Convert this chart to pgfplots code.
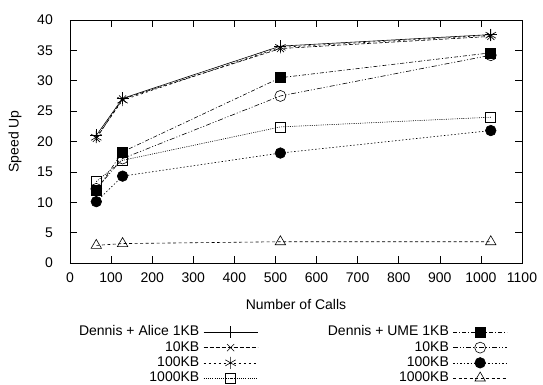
\documentclass[border=0pt]{standalone}
\usepackage{fontspec}
\setmainfont{Liberation Sans}
\usepackage{pgfplots}
\pgfplotsset{compat=1.18}
\begin{document}
\fontsize{14bp}{16bp}\selectfont
\begin{tikzpicture}
\begin{axis}[
  scale only axis, width=452bp, height=243bp,
  xmin=0, xmax=1100, ymin=0, ymax=40,
  xtick={0,100,...,1100}, ytick={0,5,...,40},
  tick align=inside, xtick pos=both, ytick pos=both,
  major tick length=7bp,
  tick style={line width=0.6bp, black},
  /pgf/number format/assume math mode=true,
  /pgf/number format/1000 sep={},
  ticklabel style={font=\fontsize{14bp}{16bp}\selectfont},
  xticklabel style={inner sep=0pt, anchor=north, yshift=-10bp},
  yticklabel style={inner sep=0pt, anchor=east, xshift=-17bp},
  label style={font=\fontsize{14bp}{16bp}\selectfont},
  xlabel={Number of Calls}, ylabel={Speed Up},
  xlabel style={at={(axis description cs:0.5,0)}, anchor=base, yshift=-46bp, inner sep=0pt},
  ylabel style={at={(axis description cs:0,0.5)}, anchor=center, yshift=55bp, inner sep=0pt},
  axis line style={line width=0.8bp},
  every axis plot/.append style={line width=0.6bp, black},
  legend columns=2,
  legend plot pos=right,
  legend image code/.code={\draw[mark repeat=2, mark phase=2] plot coordinates {(0bp,0bp) (27bp,0bp) (54bp,0bp)};},
  legend style={draw=none, fill=none, inner sep=0pt, outer sep=0pt,
    at={(axis description cs:0.02,-0.259)}, anchor=north west,
    font=\fontsize{14bp}{16bp}\selectfont,
    nodes={inner sep=0pt, text height=10bp, text depth=3bp},
    cells={anchor=east},
    /tikz/column 1/.style={column sep=4bp},
    /tikz/column 2/.style={column sep=70bp},
    /tikz/column 3/.style={column sep=4bp},
    row sep=2.2bp},
]
\coordinate (ll) at (rel axis cs:0,0);
\coordinate (ur) at (rel axis cs:1,1);
% row 1
\addplot[solid, mark=+, mark size=6bp] coordinates {(64,21.0) (128,27.1) (512,35.7) (1024,37.6)};
\addlegendentry{Dennis + Alice 1KB}
\addplot[dash pattern=on 4bp off 2bp on 1bp off 2bp, mark=square*, mark size=5bp, mark options={solid}] coordinates {(64,11.9) (128,18.3) (512,30.5) (1024,34.6)};
\addlegendentry{Dennis + UME 1KB}
% row 2
\addplot[dash pattern=on 4bp off 2bp, mark=x, mark size=5bp, mark options={solid}] coordinates {(64,20.5) (128,27.0) (512,35.3) (1024,37.3)};
\addlegendentry{10KB}
\addplot[dash pattern=on 5bp off 2bp on 1bp off 2bp on 1bp off 2bp, mark=o, mark size=5.5bp, mark options={solid}] coordinates {(64,12.2) (128,17.2) (512,27.5) (1024,34.2)};
\addlegendentry{10KB}
% row 3
\addplot[dash pattern=on 2bp off 3bp, mark=asterisk, mark size=6bp, mark options={solid}] coordinates {(64,20.7) (128,26.8) (512,35.5) (1024,37.5)};
\addlegendentry{100KB}
\addplot[dash pattern=on 1.5bp off 2bp, mark=*, mark size=5.3bp, mark options={solid}] coordinates {(64,10.1) (128,14.3) (512,18.1) (1024,21.8)};
\addlegendentry{100KB}
% row 4
\addplot[dash pattern=on 1bp off 1.2bp, mark=square, mark size=5bp, mark options={solid}] coordinates {(64,13.4) (128,16.9) (512,22.4) (1024,24.0)};
\addlegendentry{1000KB}
\addplot[dash pattern=on 3bp off 2.5bp, mark=triangle, mark size=6bp, mark options={solid}] coordinates {(64,2.9) (128,3.2) (512,3.5) (1024,3.5)};
\addlegendentry{1000KB}
\end{axis}
\pgfresetboundingbox
\path ([xshift=-70bp,yshift=-122bp]ll) rectangle ([xshift=21bp,yshift=20bp]ur);
\end{tikzpicture}
\end{document}
